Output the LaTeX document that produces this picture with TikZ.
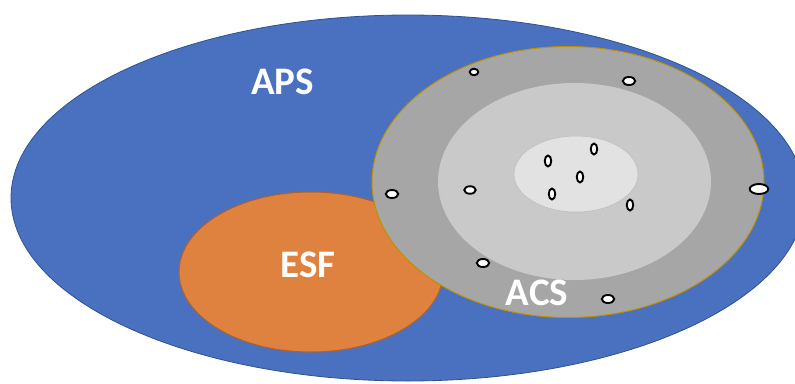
\documentclass[tikz,border=0pt]{standalone}
\usepackage{fontspec}
\setmainfont{Carlito}
\usetikzlibrary{shapes.geometric}
\definecolor{apsblue}{HTML}{4A71C0}
\definecolor{apsline}{HTML}{2F528F}
\definecolor{esforange}{HTML}{E0823F}
\definecolor{esfline}{HTML}{B0622A}
\definecolor{acsgray}{HTML}{A6A6A6}
\definecolor{acsline}{HTML}{BF9000}
\definecolor{midgray}{HTML}{C9C9C9}
\definecolor{coregray}{HTML}{E2E2E2}
\definecolor{coreline}{HTML}{BDBDBD}
\tikzset{
  region/.style={ellipse, inner sep=0pt, outer sep=0pt},
  dot/.style={ellipse, inner sep=0pt, draw=black, fill=white, line width=1.9pt},
  hdot/.style={dot, minimum width=12.5pt, minimum height=8pt},
  sdot/.style={dot, minimum width=8.5pt, minimum height=6.5pt},
  vdot/.style={dot, minimum width=6.5pt, minimum height=11pt},
  bigdot/.style={dot, minimum width=18.5pt, minimum height=10pt},
  lbl/.style={text=white, font=\bfseries\fontsize{39}{44}\selectfont, inner sep=0pt}
}
\begin{document}
\begin{tikzpicture}[x=1pt,y=-1pt]
\useasboundingbox (0,0) rectangle (795,383);
\begin{scope}
\clip (0,0) rectangle (795,383);
\node[region, fill=apsblue, draw=apsline, line width=0.8pt, minimum width=794pt, minimum height=366pt] (aps) at (408,198) {};
\node[region, fill=esforange, draw=esfline, line width=1pt, minimum width=264pt, minimum height=160pt] (esf) at (311,272) {};
\node[region, fill=acsgray, draw=acsline, line width=1pt, minimum width=392pt, minimum height=271pt] (acs) at (568,182) {};
\node[region, fill=midgray, minimum width=273pt, minimum height=197pt] (mid) at (574.5,181.5) {};
\node[region, fill=coregray, draw=coreline, line width=0.5pt, minimum width=124pt, minimum height=76pt] (core) at (576,174) {};
\end{scope}
\node[sdot] (d1) at (474,72) {};
\node[hdot] (d2) at (629,81) {};
\node[vdot] (d3) at (594,149) {};
\node[vdot] (d4) at (548,161) {};
\node[vdot] (d5) at (580,177) {};
\node[vdot] (d6) at (552,194) {};
\node[vdot] (d7) at (630,205) {};
\node[hdot, minimum width=11.5pt, minimum height=7.5pt] (d8) at (470,190) {};
\node[hdot] (d9) at (392,194) {};
\node[bigdot] (d10) at (759,189) {};
\node[hdot] (d11) at (483,263) {};
\node[hdot] (d12) at (608,299) {};
\node[lbl] (apsl) at (282.5,82) {APS};
\node[lbl] (esfl) at (308,265) {ESF};
\node[lbl] (acsl) at (537,293) {ACS};
\end{tikzpicture}
\end{document}
